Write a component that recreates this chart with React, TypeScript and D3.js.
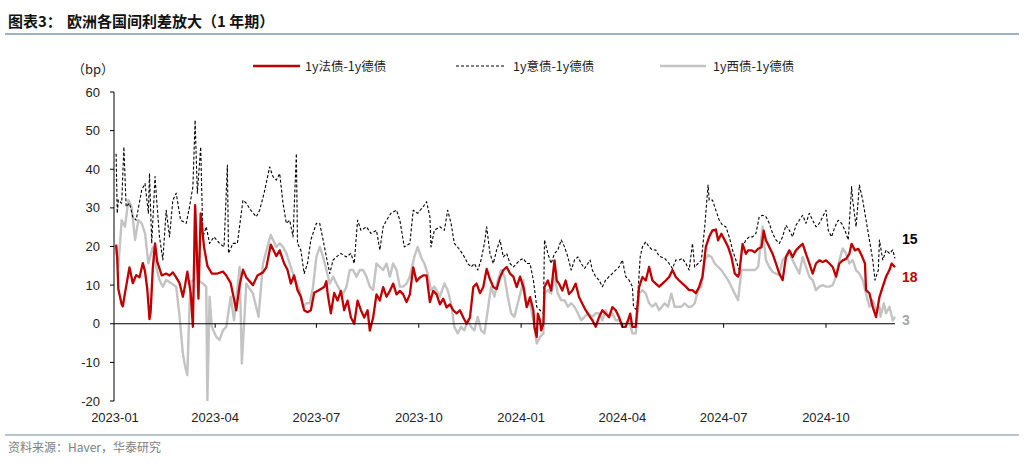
import React from "react";
import * as d3 from "d3";

// 1y法债-1y德债 (bp)
const frSpread: [string, number][] = [
["2023-01-02",20.5],["2023-01-03",17],["2023-01-04",9],["2023-01-07",5],["2023-01-08",4.5],["2023-01-10",8],["2023-01-14",14.6],["2023-01-17",10.5],["2023-01-20",12.6],["2023-01-23",12],["2023-01-26",15.7],["2023-01-28",13.5],["2023-01-30",9],["2023-02-01",1.2],["2023-02-02",3],["2023-02-04",14.6],["2023-02-06",20.8],["2023-02-08",16],["2023-02-12",12.5],["2023-02-16",13],["2023-02-19",12.5],["2023-02-22",13.3],["2023-02-25",12],["2023-02-28",10.5],["2023-03-03",7],["2023-03-05",10],["2023-03-07",13.5],["2023-03-10",8],["2023-03-12",-0.8],["2023-03-14",30.7],["2023-03-17",6.5],["2023-03-19",28.6],["2023-03-22",19.9],["2023-03-25",15],["2023-03-29",13],["2023-04-03",13],["2023-04-08",13.5],["2023-04-11",12.5],["2023-04-15",10.5],["2023-04-20",3.5],["2023-04-23",10],["2023-04-26",14],["2023-04-29",12],["2023-05-05",10],["2023-05-09",12.5],["2023-05-14",13.3],["2023-05-17",14.6],["2023-05-21",20.5],["2023-05-26",17.5],["2023-05-29",19],["2023-06-02",15.6],["2023-06-05",14],["2023-06-08",10.4],["2023-06-11",12.5],["2023-06-14",8.7],["2023-06-17",7],["2023-06-20",3.5],["2023-06-23",3],["2023-06-26",3.5],["2023-06-29",8],["2023-07-02",8.5],["2023-07-05",9],["2023-07-08",9.5],["2023-07-10",11],["2023-07-11",8],["2023-07-14",2.7],["2023-07-17",8],["2023-07-20",6],["2023-07-23",8.5],["2023-07-26",3.5],["2023-07-29",6],["2023-08-01",1.6],["2023-08-04",0],["2023-08-07",6],["2023-08-10",3.5],["2023-08-13",1.6],["2023-08-16",3.5],["2023-08-18",-1.8],["2023-08-21",1.6],["2023-08-24",7.6],["2023-08-27",6],["2023-08-30",9.5],["2023-09-02",7],["2023-09-05",8.5],["2023-09-08",10.4],["2023-09-11",7.6],["2023-09-14",8.5],["2023-09-17",7.6],["2023-09-20",5.6],["2023-09-23",7.6],["2023-09-26",14.6],["2023-09-29",11],["2023-10-02",12],["2023-10-05",12.5],["2023-10-08",12.5],["2023-10-11",5.6],["2023-10-14",8.5],["2023-10-17",7.6],["2023-10-20",5],["2023-10-23",6.5],["2023-10-26",4.2],["2023-10-29",5],["2023-11-01",3.5],["2023-11-04",2.7],["2023-11-07",3.5],["2023-11-10",1.6],["2023-11-13",0],["2023-11-16",1.6],["2023-11-19",9.5],["2023-11-22",10.4],["2023-11-25",7.9],["2023-11-28",9.5],["2023-12-01",14.2],["2023-12-04",11.5],["2023-12-07",9.5],["2023-12-10",9],["2023-12-13",12],["2023-12-16",13.9],["2023-12-19",14.7],["2023-12-22",13],["2023-12-25",12.2],["2023-12-28",9.5],["2023-12-31",12.2],["2024-01-03",9.5],["2024-01-06",4.3],["2024-01-09",6.9],["2024-01-12",3.5],["2024-01-13",-0.9],["2024-01-15",-3.4],["2024-01-16",2.6],["2024-01-18",0.9],["2024-01-19",-1.7],["2024-01-21",0],["2024-01-22",9.5],["2024-01-25",11.2],["2024-01-28",8.6],["2024-01-31",16.4],["2024-02-02",11.2],["2024-02-04",10.4],["2024-02-07",8.6],["2024-02-10",11.2],["2024-02-13",7.7],["2024-02-16",8.6],["2024-02-19",10.4],["2024-02-22",6.9],["2024-02-25",5.2],["2024-02-28",3.5],["2024-03-03",1.7],["2024-03-05",0.9],["2024-03-08",-0.8],["2024-03-11",1.7],["2024-03-14",3.5],["2024-03-17",2.6],["2024-03-20",1.7],["2024-03-23",4.3],["2024-03-26",3.5],["2024-03-29",1.7],["2024-04-01",-0.8],["2024-04-04",-0.8],["2024-04-07",1.7],["2024-04-08",2.6],["2024-04-10",-0.8],["2024-04-13",-0.8],["2024-04-16",9.5],["2024-04-19",12.1],["2024-04-22",11.2],["2024-04-25",14.7],["2024-04-28",11.2],["2024-05-01",10.4],["2024-05-04",9.6],["2024-05-07",10.4],["2024-05-10",11.2],["2024-05-13",12.1],["2024-05-16",13.9],["2024-05-19",12.1],["2024-05-22",11.2],["2024-05-25",10.4],["2024-05-28",9.6],["2024-05-31",8.7],["2024-06-03",8.7],["2024-06-06",7.9],["2024-06-09",9.6],["2024-06-12",12.2],["2024-06-15",19.9],["2024-06-18",22.5],["2024-06-21",24.2],["2024-06-24",24.4],["2024-06-26",21.6],["2024-06-29",23.3],["2024-07-02",21.6],["2024-07-05",19.9],["2024-07-08",17.3],["2024-07-11",13],["2024-07-14",12.2],["2024-07-15",13],["2024-07-18",20.7],["2024-07-21",18.1],["2024-07-23",19],["2024-07-26",19],["2024-07-29",18.5],["2024-08-01",19.4],["2024-08-04",19.8],["2024-08-06",24.1],["2024-08-08",21.6],["2024-08-11",19.9],["2024-08-14",18.1],["2024-08-17",15.6],["2024-08-20",13],["2024-08-23",11.3],["2024-08-26",17.3],["2024-08-29",19],["2024-09-01",17.3],["2024-09-04",19],["2024-09-07",19.9],["2024-09-10",20.7],["2024-09-13",18.1],["2024-09-16",15.6],["2024-09-19",13],["2024-09-22",15.6],["2024-09-25",16.4],["2024-09-28",16],["2024-10-01",16.4],["2024-10-04",15.6],["2024-10-07",14.7],["2024-10-10",12.2],["2024-10-13",15.6],["2024-10-16",16.4],["2024-10-19",16.8],["2024-10-22",18.1],["2024-10-24",20.7],["2024-10-27",19],["2024-10-30",19.4],["2024-11-02",17.7],["2024-11-05",15.6],["2024-11-06",8.7],["2024-11-09",7.9],["2024-11-12",4.3],["2024-11-15",1.7],["2024-11-18",6.9],["2024-11-21",9.6],["2024-11-24",12.2],["2024-11-27",13.9],["2024-11-29",15.6],["2024-12-02",14.6]
];

// 1y意债-1y德债 (bp)
const itSpread: [string, number][] = [
["2023-01-02",44],["2023-01-03",28.6],["2023-01-04",32],["2023-01-07",31.2],["2023-01-09",45.8],["2023-01-11",30.3],["2023-01-14",31.2],["2023-01-17",27.7],["2023-01-20",26.8],["2023-01-25",34.6],["2023-01-28",36.3],["2023-01-31",28.6],["2023-02-01",38.9],["2023-02-03",20.8],["2023-02-06",38.1],["2023-02-07",33.8],["2023-02-10",22.5],["2023-02-13",16.5],["2023-02-16",29.4],["2023-02-19",22.5],["2023-02-22",32],["2023-02-25",33.8],["2023-03-01",26.8],["2023-03-06",26],["2023-03-09",30.3],["2023-03-12",35.5],["2023-03-14",52.7],["2023-03-16",33.8],["2023-03-19",45.8],["2023-03-21",22.5],["2023-03-24",25.1],["2023-03-27",20.8],["2023-03-31",22.5],["2023-04-05",20.8],["2023-04-09",19.9],["2023-04-12",41.1],["2023-04-13",18.2],["2023-04-17",20.8],["2023-04-21",20.8],["2023-04-26",32],["2023-04-29",31.2],["2023-05-03",29.4],["2023-05-08",27.7],["2023-05-11",29.4],["2023-05-15",33.8],["2023-05-20",40.6],["2023-05-23",38.1],["2023-05-26",37.2],["2023-05-29",38.9],["2023-06-01",31.2],["2023-06-04",26],["2023-06-07",26.8],["2023-06-10",22.5],["2023-06-13",44.1],["2023-06-14",20.8],["2023-06-17",19.1],["2023-06-20",13],["2023-06-23",15.6],["2023-06-26",21.7],["2023-07-01",26],["2023-07-04",26],["2023-07-07",21.7],["2023-07-10",17.3],["2023-07-13",13],["2023-07-16",16.5],["2023-07-19",17.3],["2023-07-23",18.2],["2023-07-28",17.3],["2023-08-01",18.2],["2023-08-04",15.6],["2023-08-07",26.8],["2023-08-10",24.2],["2023-08-15",25.1],["2023-08-19",23.4],["2023-08-24",24.2],["2023-08-27",19.1],["2023-08-30",25.1],["2023-09-02",26.8],["2023-09-06",28.6],["2023-09-11",29.4],["2023-09-14",26.8],["2023-09-18",19.9],["2023-09-23",20.8],["2023-09-26",29.4],["2023-09-30",28.6],["2023-10-05",30.3],["2023-10-08",31.6],["2023-10-11",27.7],["2023-10-12",19.9],["2023-10-15",24.2],["2023-10-20",25.1],["2023-10-24",24.2],["2023-10-27",29.4],["2023-10-30",26],["2023-11-02",20.8],["2023-11-07",19.1],["2023-11-11",17.3],["2023-11-14",15.6],["2023-11-17",14.7],["2023-11-20",15.6],["2023-11-23",13.9],["2023-11-26",16.5],["2023-11-29",20.8],["2023-12-01",25.1],["2023-12-04",18.2],["2023-12-07",15.6],["2023-12-10",19.1],["2023-12-13",21.7],["2023-12-16",17.3],["2023-12-19",18.2],["2023-12-22",15.6],["2023-12-25",14.7],["2023-12-28",15.6],["2023-12-31",16.5],["2024-01-03",16.9],["2024-01-06",15.6],["2024-01-09",15.6],["2024-01-12",11.3],["2024-01-15",4.4],["2024-01-18",3.5],["2024-01-21",2.7],["2024-01-22",21.7],["2024-01-25",18.2],["2024-01-28",15.6],["2024-01-31",18.2],["2024-02-03",19.1],["2024-02-06",21.7],["2024-02-09",19.9],["2024-02-12",17.3],["2024-02-15",13.9],["2024-02-18",16.5],["2024-02-21",17.3],["2024-02-24",15.6],["2024-02-27",14.3],["2024-03-03",16.5],["2024-03-05",13.9],["2024-03-08",12.2],["2024-03-11",11.3],["2024-03-14",9.6],["2024-03-17",11.3],["2024-03-20",12.2],["2024-03-23",13],["2024-03-26",13.9],["2024-03-29",14.7],["2024-04-01",16.5],["2024-04-04",12.2],["2024-04-07",11.3],["2024-04-10",9.6],["2024-04-11",4.4],["2024-04-14",3.5],["2024-04-17",17.3],["2024-04-19",19.9],["2024-04-22",21.2],["2024-04-25",19.9],["2024-04-28",19.1],["2024-05-01",19.1],["2024-05-04",17.5],["2024-05-09",16.9],["2024-05-13",15.6],["2024-05-16",14.3],["2024-05-19",16.5],["2024-05-22",16.5],["2024-05-25",16.9],["2024-05-28",15.6],["2024-05-31",13.9],["2024-06-03",20.8],["2024-06-05",14.7],["2024-06-08",15.6],["2024-06-11",16.5],["2024-06-14",25.1],["2024-06-17",35.9],["2024-06-18",32],["2024-06-21",32],["2024-06-24",29.4],["2024-06-27",26.8],["2024-06-30",25.5],["2024-07-03",25.1],["2024-07-06",22.5],["2024-07-09",19.1],["2024-07-12",16.5],["2024-07-15",13.9],["2024-07-18",19.9],["2024-07-21",21.7],["2024-07-24",22.5],["2024-07-27",22.5],["2024-07-30",23.4],["2024-08-02",27.7],["2024-08-05",28.1],["2024-08-08",27.7],["2024-08-11",26],["2024-08-14",23.4],["2024-08-17",21.7],["2024-08-20",20.8],["2024-08-23",22.5],["2024-08-26",25.5],["2024-08-29",24.2],["2024-09-01",22.5],["2024-09-04",25.5],["2024-09-07",26.8],["2024-09-10",28.1],["2024-09-13",26],["2024-09-16",28.6],["2024-09-19",26.8],["2024-09-22",25.1],["2024-09-25",26],["2024-09-28",27.7],["2024-10-01",29.4],["2024-10-03",24.2],["2024-10-06",22.5],["2024-10-09",25.1],["2024-10-12",26.8],["2024-10-15",26],["2024-10-18",24.2],["2024-10-21",21.7],["2024-10-24",35.5],["2024-10-25",32],["2024-10-28",25.1],["2024-10-31",35.9],["2024-11-03",32],["2024-11-06",26.8],["2024-11-09",21.7],["2024-11-12",16.5],["2024-11-14",11.3],["2024-11-17",13.9],["2024-11-18",21.7],["2024-11-21",16.5],["2024-11-24",19.1],["2024-11-27",18.2],["2024-11-30",19.1],["2024-12-02",16.9]
];

// 1y西债-1y德债 (bp)
const esSpread: [string, number][] = [
["2023-01-02",19.9],["2023-01-04",14.7],["2023-01-07",26.8],["2023-01-10",25.1],["2023-01-13",32],["2023-01-16",30.3],["2023-01-19",21.7],["2023-01-22",26.8],["2023-01-25",26],["2023-01-28",23.4],["2023-01-31",15.6],["2023-02-04",19.9],["2023-02-07",14.7],["2023-02-10",11.3],["2023-02-13",9.6],["2023-02-16",11.3],["2023-02-21",10.4],["2023-02-25",9.6],["2023-02-28",2],["2023-03-03",-7.7],["2023-03-05",-11],["2023-03-07",-13.3],["2023-03-09",5],["2023-03-10",11],["2023-03-13",11.3],["2023-03-14",30],["2023-03-17",11.3],["2023-03-21",10.4],["2023-03-24",9.6],["2023-03-25",-20],["2023-03-27",7],["2023-03-29",-0.8],["2023-04-02",-3.4],["2023-04-05",-4.2],["2023-04-08",-1.7],["2023-04-11",-0.8],["2023-04-15",7],["2023-04-18",0.9],["2023-04-23",14.7],["2023-04-25",-10.3],["2023-04-29",10.4],["2023-05-05",7.8],["2023-05-10",1.8],["2023-05-14",15.6],["2023-05-18",19.9],["2023-05-21",23],["2023-05-26",19.9],["2023-05-29",20.8],["2023-06-01",19.9],["2023-06-04",18.2],["2023-06-07",15.6],["2023-06-10",13],["2023-06-13",10.4],["2023-06-16",8.7],["2023-06-19",4.4],["2023-06-22",5.3],["2023-06-25",5.3],["2023-06-28",9.6],["2023-07-01",17.3],["2023-07-04",19.9],["2023-07-07",17.3],["2023-07-10",13.9],["2023-07-13",10.4],["2023-07-16",12.2],["2023-07-19",10.4],["2023-07-22",8.7],["2023-07-25",7.8],["2023-07-28",9.6],["2023-07-31",13.9],["2023-08-03",13.9],["2023-08-06",12.2],["2023-08-09",13.9],["2023-08-12",13.9],["2023-08-15",12.2],["2023-08-18",9.6],["2023-08-21",8.7],["2023-08-24",15.6],["2023-08-27",14.7],["2023-08-30",13.9],["2023-09-02",15.6],["2023-09-05",12.2],["2023-09-08",15.6],["2023-09-11",13.9],["2023-09-14",9.6],["2023-09-17",9.6],["2023-09-20",10.4],["2023-09-23",12.2],["2023-09-27",17.3],["2023-09-30",19.9],["2023-10-03",17.3],["2023-10-06",15.6],["2023-10-09",13],["2023-10-12",8.7],["2023-10-15",9.6],["2023-10-20",7],["2023-10-24",10.4],["2023-10-27",8.7],["2023-10-30",5.3],["2023-11-02",-0.8],["2023-11-05",-2.5],["2023-11-08",-0.8],["2023-11-11",-1.7],["2023-11-14",0.9],["2023-11-17",-0.8],["2023-11-20",-1.7],["2023-11-23",1.8],["2023-11-26",-1.7],["2023-11-29",-2.5],["2023-12-02",3.5],["2023-12-05",9.6],["2023-12-08",7],["2023-12-11",11.3],["2023-12-14",13.9],["2023-12-17",12.2],["2023-12-20",7],["2023-12-23",2.7],["2023-12-26",1.8],["2023-12-29",5.3],["2024-01-01",8.7],["2024-01-03",11.3],["2024-01-06",4.4],["2024-01-09",5.3],["2024-01-12",0.9],["2024-01-15",-5.1],["2024-01-18",-3.4],["2024-01-21",-2.5],["2024-01-22",7.8],["2024-01-25",8.7],["2024-01-28",7.8],["2024-01-31",12.2],["2024-02-03",7.8],["2024-02-06",6.1],["2024-02-09",6.1],["2024-02-12",4.4],["2024-02-15",5.3],["2024-02-18",4.4],["2024-02-21",2.7],["2024-02-24",0.9],["2024-02-27",1.8],["2024-03-01",2.7],["2024-03-05",1.8],["2024-03-08",2.7],["2024-03-11",2.7],["2024-03-14",0.9],["2024-03-17",3.5],["2024-03-20",1.8],["2024-03-23",2.7],["2024-03-26",0.9],["2024-03-29",0.9],["2024-04-01",0],["2024-04-04",0],["2024-04-07",0.9],["2024-04-10",-2.5],["2024-04-13",-2.5],["2024-04-16",7.8],["2024-04-19",8.7],["2024-04-22",7.8],["2024-04-25",5.3],["2024-04-28",4.4],["2024-05-01",5.3],["2024-05-04",3.5],["2024-05-09",5.3],["2024-05-12",4.4],["2024-05-15",7.8],["2024-05-18",4.4],["2024-05-21",4.4],["2024-05-24",4.4],["2024-05-27",5.3],["2024-05-30",4.4],["2024-06-02",4.4],["2024-06-05",5.3],["2024-06-08",8.7],["2024-06-11",9.6],["2024-06-14",16.5],["2024-06-17",17.8],["2024-06-20",17.3],["2024-06-23",15.6],["2024-06-26",14.7],["2024-06-29",13.9],["2024-07-02",12.6],["2024-07-05",11.3],["2024-07-08",9.6],["2024-07-11",7.8],["2024-07-14",6.1],["2024-07-17",13.9],["2024-07-20",13.9],["2024-07-24",13.9],["2024-07-29",13.9],["2024-08-01",14.7],["2024-08-04",22.5],["2024-08-05",25.1],["2024-08-08",16.5],["2024-08-11",14.7],["2024-08-14",13.4],["2024-08-17",13],["2024-08-20",12.6],["2024-08-23",16.5],["2024-08-26",17.3],["2024-08-29",18.2],["2024-09-01",16.5],["2024-09-04",14.7],["2024-09-07",13],["2024-09-10",17.3],["2024-09-13",14.7],["2024-09-16",12.2],["2024-09-19",11.3],["2024-09-22",8.7],["2024-09-25",9.6],["2024-09-28",10],["2024-10-01",9.6],["2024-10-04",9.6],["2024-10-07",10],["2024-10-10",12.2],["2024-10-13",16.5],["2024-10-16",19.5],["2024-10-19",18.2],["2024-10-22",15.6],["2024-10-25",16.5],["2024-10-28",13.9],["2024-10-31",13],["2024-11-03",11.3],["2024-11-06",7.8],["2024-11-09",4.4],["2024-11-12",6.1],["2024-11-15",3.5],["2024-11-18",4.4],["2024-11-19",1.8],["2024-11-22",5.3],["2024-11-24",2.7],["2024-11-27",4.4],["2024-11-30",0.9],["2024-12-02",1.8]
];

const yTicks = [-20, -10, 0, 10, 20, 30, 40, 50, 60];
const xTickLabels = ["2023-01", "2023-04", "2023-07", "2023-10", "2024-01", "2024-04", "2024-07", "2024-10"];
const legendLabels = ["1y法债-1y德债", "1y意债-1y德债", "1y西债-1y德债"];
const endLabels = ["15", "18", "3"];
const endLabelAnchors = [22, 12, 1];

const RED = "#C00000";
const GRAY = "#C3C3C3";
const FONT = "Arial, 'Liberation Sans', 'Noto Sans CJK SC', sans-serif";
const CJK = "'Noto Sans CJK SC', 'Liberation Sans', sans-serif";

export default function App() {
  const parse = d3.timeParse("%Y-%m-%d");
  const parseM = d3.timeParse("%Y-%m");
  const x = d3.scaleTime()
    .domain([parse("2023-01-01") as Date, parse("2024-12-02") as Date])
    .range([115, 895]);
  const y = d3.scaleLinear().domain([-20, 60]).range([401, 92]);
  const line = d3.line<[string, number]>()
    .x(d => x(parse(d[0]) as Date))
    .y(d => y(d[1]));

  const axisX = 114;
  const zeroY = y(0);

  const legendItems = [
    { x1: 253, x2: 300, tx: 305, stroke: RED, w: 2.4, dash: undefined as string | undefined },
    { x1: 456, x2: 505, tx: 513, stroke: "#000", w: 1.1, dash: "3 2" },
    { x1: 660, x2: 706, tx: 713, stroke: GRAY, w: 2.4, dash: undefined },
  ];
  const endColors = ["#000", RED, "#A6A6A6"];

  return (
    <div>
      <style>{"body{margin:0}"}</style>
      <svg width={1024} height={467} style={{ display: "block", background: "#fff" }}>
        <defs>
          <clipPath id="plot">
            <rect x={axisX} y={y(60) - 5} width={800} height={y(-20) - y(60) + 5} />
          </clipPath>
        </defs>
        {/* Title */}
        <text x={8} y={27} fontFamily={CJK} fontWeight="bold" fontSize={15} fill="#111">
          <tspan>图表3：</tspan>
          <tspan x={67}>欧洲各国间利差放大（1 年期）</tspan>
        </text>
        <line x1={5} x2={1019} y1={34} y2={34} stroke="#9DB2C8" strokeWidth={2} />

        {/* Legend */}
        {legendItems.map((it, i) => (
          <g key={i}>
            <line x1={it.x1} x2={it.x2} y1={66} y2={66} stroke={it.stroke} strokeWidth={it.w} strokeDasharray={it.dash} />
            <text x={it.tx} y={70.5} fontFamily={CJK} fontSize={12.5} fill="#222">{legendLabels[i]}</text>
          </g>
        ))}

        {/* unit */}
        <text x={72} y={74} fontFamily={CJK} fontSize={13} fill="#222">（bp）</text>

        {/* Y axis */}
        <line x1={axisX} x2={axisX} y1={y(60)} y2={y(-20)} stroke="#000" strokeWidth={1} />
        {yTicks.map(t => (
          <g key={t}>
            <line x1={axisX - 4} x2={axisX} y1={y(t)} y2={y(t)} stroke="#000" strokeWidth={1} />
            <text x={100} y={y(t) + 4.5} textAnchor="end" fontFamily={FONT} fontSize={13} fill="#222">{t}</text>
          </g>
        ))}

        {/* Series */}
        <g clipPath="url(#plot)" fill="none" strokeLinejoin="round">
          <path d={line(esSpread) || ""} stroke={GRAY} strokeWidth={2.4} />
          <path d={line(itSpread) || ""} stroke="#000" strokeWidth={1.1} strokeDasharray="3 2" />
          <path d={line(frSpread) || ""} stroke={RED} strokeWidth={2.3} />
        </g>

        {/* Zero axis */}
        <line x1={axisX} x2={x.range()[1]} y1={zeroY} y2={zeroY} stroke="#000" strokeWidth={1} />
        {xTickLabels.map((lab, i) => {
          const xx = x(parseM(lab) as Date);
          return (
            <g key={lab}>
              {i > 0 && <line x1={xx} x2={xx} y1={zeroY} y2={zeroY + 4} stroke="#000" strokeWidth={1} />}
              <text x={xx} y={422} textAnchor="middle" fontFamily={FONT} fontSize={13} fill="#222">{lab}</text>
            </g>
          );
        })}

        {/* End labels */}
        {endLabels.map((l, i) => (
          <text key={l} x={902} y={y(endLabelAnchors[i]) + 5} fontFamily={FONT} fontWeight="bold" fontSize={14} fill={endColors[i]}>{l}</text>
        ))}

        {/* Footer */}
        <line x1={5} x2={1019} y1={435} y2={435} stroke="#9DB2C8" strokeWidth={1.5} />
        <text x={8} y={452} fontFamily={CJK} fontSize={12} fill="#808080">资料来源：Haver，华泰研究</text>
      </svg>
    </div>
  );
}
